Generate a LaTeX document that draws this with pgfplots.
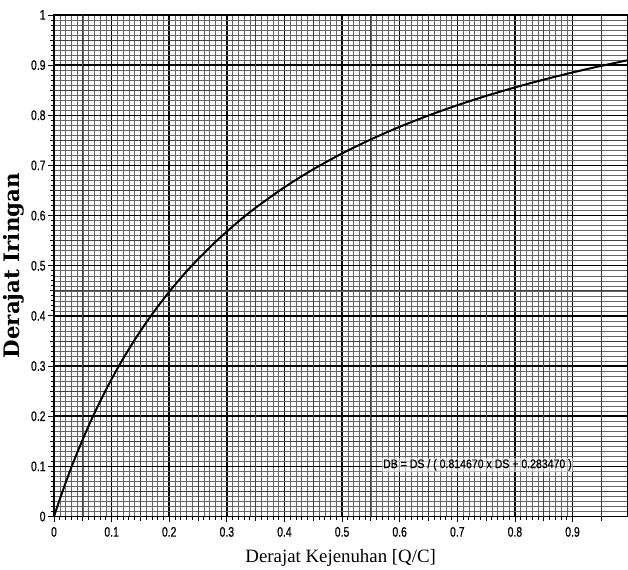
\documentclass[border=0pt]{standalone}
\usepackage{fontspec}
\setmainfont{Liberation Serif}
\setsansfont{Liberation Sans}
\newfontfamily\ylabfont{DejaVu Serif}
\newfontfamily\tickfont{Liberation Sans}[FakeStretch=0.75,FakeBold=0.5]
\newfontfamily\annfont{Liberation Sans}[FakeStretch=0.85,FakeBold=0.4]
\usepackage{pgfplots}
\pgfplotsset{compat=1.18}

\begin{document}
\begin{tikzpicture}
\begin{axis}[
  scale only axis,
  width=576bp, height=504bp,
  xmin=0, xmax=0.995, ymin=0, ymax=1,
  xtick={0,0.1,...,0.9}, ytick={0,0.1,...,1},
  minor tick num=9,
  extra x ticks={0.05,0.15,...,0.95}, extra x tick labels={},
  extra y ticks={0.05,0.15,...,0.95}, extra y tick labels={},
  extra tick style={major grid style={black!75,line width=0.8pt}, major tick length=4bp},
  xtick pos=bottom, ytick pos=left,
  tick align=outside,
  major tick length=6bp, minor tick length=3.5bp,
  every tick/.style={black, line width=0.8pt},
  grid=both,
  major grid style={black, line width=1.5pt},
  minor grid style={black!60, line width=0.5pt},
  axis line style={black, line width=1.4pt},
  /pgf/number format/assume math mode=true,
  tick label style={font=\tickfont\fontsize{14}{16}\selectfont},
  xticklabel style={yshift=-1bp},
  yticklabel style={xshift=1bp},
  xlabel={Derajat Kejenuhan [Q/C]},
  ylabel={Derajat Iringan},
  xlabel style={font=\fontsize{19}{22}\selectfont, yshift=4bp},
  ylabel style={font=\ylabfont\bfseries\fontsize{21.5}{24}\selectfont, yshift=-10bp},
]
\addplot[black, line width=2pt, smooth] coordinates {
  (0,0)(0.005,0.01739)(0.01,0.03429)(0.02,0.06672)(0.03,0.09743)(0.04,0.12656)
  (0.06,0.18053)(0.08,0.22946)(0.1,0.27402)(0.12,0.31477)(0.14,0.35218)
  (0.16,0.38664)(0.18,0.41850)(0.2,0.44803)(0.22,0.47547)(0.24,0.50105)
  (0.28,0.54733)(0.32,0.58806)(0.35,0.61554)(0.4,0.65645)(0.45,0.69223)
  (0.5,0.72379)(0.55,0.75184)(0.6,0.77693)(0.65,0.79950)(0.7,0.81993)
  (0.75,0.83848)(0.8,0.85543)(0.85,0.87096)(0.9,0.88524)(0.95,0.89843)(1,0.91063)
};
\node[font=\annfont\fontsize{12.5}{14}\selectfont, fill=white, fill opacity=0.55,
  text opacity=1, inner sep=1pt] at (axis cs:0.735,0.103)
  {DB = DS / ( 0.814670 x DS + 0.283470 )};
\end{axis}
\path ([yshift=15bp]current axis.north west) -- ([yshift=15bp]current axis.north east);
\end{tikzpicture}
\end{document}
